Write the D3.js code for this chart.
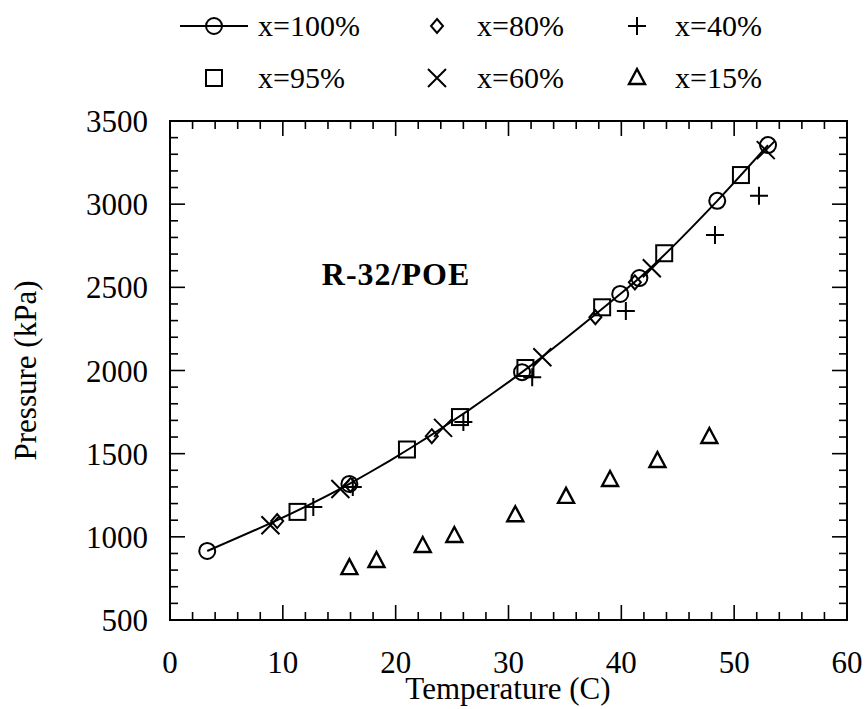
<!DOCTYPE html>
<html>
<head>
<meta charset="utf-8">
<script src="https://cdn.jsdelivr.net/npm/d3@7"></script>
<style>
  body { margin: 0; background: #fff; }
  svg text { font-family: "Liberation Serif", "DejaVu Serif", serif; fill: #000; }
</style>
</head>
<body>
<svg id="chart" width="865" height="709"></svg>
<script>
// temperature (C) / pressure (kPa), one pair of arrays per mass fraction
var t100 = [3.3, 15.9, 31.2, 39.9, 41.6, 48.5, 53.0];
var p100 = [915, 1318, 1990, 2460, 2556, 3020, 3355];
var t95 = [11.3, 21.0, 25.7, 31.5, 38.3, 43.8, 50.6];
var p95 = [1150, 1525, 1720, 2015, 2380, 2705, 3175];
var t80 = [9.5, 16.0, 23.2, 37.7, 41.2];
var p80 = [1095, 1312, 1605, 2320, 2530];
var t60 = [8.9, 15.1, 24.2, 33.0, 42.7, 52.8];
var p60 = [1070, 1288, 1655, 2080, 2615, 3325];
var t40 = [12.7, 16.2, 26.0, 32.1, 40.4, 48.3, 52.2];
var p40 = [1180, 1300, 1690, 1960, 2358, 2815, 3050];
var t15 = [15.9, 18.3, 22.4, 25.2, 30.6, 35.1, 39.0, 43.2, 47.8];
var p15 = [812, 855, 945, 1005, 1130, 1240, 1342, 1456, 1600];

var xTicks = [0, 10, 20, 30, 40, 50, 60];
var yTicks = [500, 1000, 1500, 2000, 2500, 3000, 3500];
var legendLabels = ["x=100%", "x=80%", "x=40%", "x=95%", "x=60%", "x=15%"];
var legendShapes = ["circle", "diamond", "plus", "square", "cross", "triangle"];

var svg = d3.select("#chart");
var pL = 170, pR = 847, pT = 121, pB = 620;

var x = d3.scaleLinear().domain([0, 60]).range([pL, pR]);
var y = d3.scaleLinear().domain([500, 3500]).range([pB, pT]);

var xMinor = d3.range(0, 61, 2);
var yMinor = d3.range(500, 3501, 100);

// frame
svg.append("rect")
  .attr("x", pL).attr("y", pT)
  .attr("width", pR - pL).attr("height", pB - pT)
  .attr("fill", "none").attr("stroke", "#000").attr("stroke-width", 2);

// inward ticks on all four sides
function tickLen(major) { return major ? 15 : 8; }
var g = svg.append("g").attr("stroke", "#000").attr("stroke-width", 1.6);
xMinor.forEach(function (v) {
  var L = tickLen(v % 10 === 0);
  g.append("line").attr("x1", x(v)).attr("x2", x(v)).attr("y1", pB).attr("y2", pB - L);
  g.append("line").attr("x1", x(v)).attr("x2", x(v)).attr("y1", pT).attr("y2", pT + L);
});
yMinor.forEach(function (v) {
  var L = tickLen(v % 500 === 0);
  g.append("line").attr("y1", y(v)).attr("y2", y(v)).attr("x1", pL).attr("x2", pL + L);
  g.append("line").attr("y1", y(v)).attr("y2", y(v)).attr("x1", pR).attr("x2", pR - L);
});

// tick labels
svg.append("g").selectAll("text").data(xTicks).enter().append("text")
  .attr("x", function (d) { return x(d); })
  .attr("y", 673)
  .attr("text-anchor", "middle")
  .style("font-size", "31px")
  .text(function (d) { return d; });
svg.append("g").selectAll("text").data(yTicks).enter().append("text")
  .attr("x", 148)
  .attr("y", function (d) { return y(d) + 11; })
  .attr("text-anchor", "end")
  .style("font-size", "31px")
  .text(function (d) { return d; });

// axis titles
svg.append("text")
  .attr("x", 508).attr("y", 699)
  .attr("text-anchor", "middle")
  .style("font-size", "31px")
  .text("Temperature (C)");
svg.append("text")
  .attr("transform", "translate(36," + ((pT + pB) / 2) + ")rotate(-90)")
  .attr("text-anchor", "middle")
  .style("font-size", "31px")
  .text("Pressure (kPa)");

svg.append("text")
  .attr("x", 396).attr("y", 285)
  .attr("text-anchor", "middle")
  .style("font-size", "32px").style("font-weight", "bold")
  .style("letter-spacing", "1px")
  .text("R-32/POE");

// marker drawing
function marker(sel, shape) {
  sel.attr("fill", "none").attr("stroke", "#000").attr("stroke-width", 2);
  if (shape === "circle") {
    sel.append("circle").attr("r", 8);
  } else if (shape === "square") {
    sel.append("rect").attr("x", -8).attr("y", -8).attr("width", 16).attr("height", 16);
  } else if (shape === "diamond") {
    sel.append("path").attr("d", "M0,-7L6,0L0,7L-6,0Z");
  } else if (shape === "cross") {
    sel.append("path").attr("d", "M-9,-9L9,9M-9,9L9,-9");
  } else if (shape === "plus") {
    sel.append("path").attr("d", "M-9,0L9,0M0,-9L0,9");
  } else if (shape === "triangle") {
    sel.append("path").attr("d", "M0,-9L8,6L-8,6Z").attr("stroke-width", 2.4);
  }
}

function plotSeries(ts, ps, shape) {
  ts.forEach(function (t, i) {
    var m = svg.append("g").attr("transform", "translate(" + x(t) + "," + y(ps[i]) + ")");
    marker(m, shape);
  });
}

// fitted line through the pure refrigerant points
var line = d3.line()
  .x(function (d) { return x(d[0]); })
  .y(function (d) { return y(d[1]); })
  .curve(d3.curveMonotoneX);
svg.append("path")
  .datum(t100.map(function (t, i) { return [t, p100[i]]; }))
  .attr("d", line)
  .attr("fill", "none").attr("stroke", "#000").attr("stroke-width", 2);

plotSeries(t15, p15, "triangle");
plotSeries(t40, p40, "plus");
plotSeries(t60, p60, "cross");
plotSeries(t80, p80, "diamond");
plotSeries(t95, p95, "square");
plotSeries(t100, p100, "circle");

// legend: two rows of three
var symX = [214, 437, 637];
var txtX = [258, 477, 675];
var rowY = [26, 78];
legendLabels.forEach(function (lab, i) {
  var r = Math.floor(i / 3), c = i % 3;
  if (i === 0) {
    svg.append("line").attr("x1", 180).attr("x2", 248)
      .attr("y1", rowY[r]).attr("y2", rowY[r])
      .attr("stroke", "#000").attr("stroke-width", 2);
  }
  var m = svg.append("g").attr("transform", "translate(" + symX[c] + "," + rowY[r] + ")");
  marker(m, legendShapes[i]);
  svg.append("text")
    .attr("x", txtX[c]).attr("y", rowY[r] + 10)
    .style("font-size", "30px")
    .text(lab);
});
</script>
</body>
</html>
